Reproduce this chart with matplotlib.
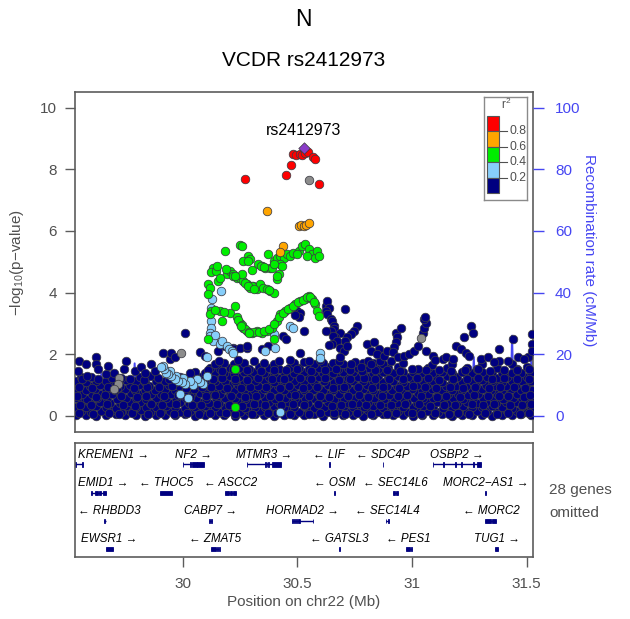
import matplotlib
matplotlib.use("Agg")
import matplotlib.pyplot as plt
from matplotlib.patches import Rectangle

plt.rcParams["font.family"] = ["Liberation Sans", "DejaVu Sans"]
plt.rcParams["mathtext.default"] = "regular"

# ---------------------------------------------------------------- SNP data
# dense block of weakly associated SNPs (r2 < 0.2)
band_pos = [
    29.535, 29.576, 29.622, 29.663, 29.708, 29.749, 29.794, 29.835, 29.881, 29.922, 29.967, 30.008, 30.053, 30.095, 30.14, 30.181, 30.226, 30.267, 30.313, 30.354, 30.399, 30.44, 30.485, 30.527, 30.572, 30.613, 30.658, 30.699, 30.745, 30.786, 30.831, 30.872, 30.917, 30.959, 31.004, 31.045, 31.09, 31.131, 31.177, 31.218, 31.263, 31.304, 31.349, 31.391, 31.436, 31.477, 31.52,
    29.557, 29.598, 29.643, 29.685, 29.73, 29.771, 29.816, 29.857, 29.903, 29.944, 29.989, 30.03, 30.075, 30.117, 30.162, 30.203, 30.248, 30.289, 30.335, 30.376, 30.421, 30.462, 30.507, 30.549, 30.594, 30.635, 30.68, 30.721, 30.767, 30.808, 30.853, 30.894, 30.939, 30.981, 31.026, 31.067, 31.112, 31.153, 31.199, 31.24, 31.285, 31.326, 31.371, 31.413, 31.458, 31.499,
    29.536, 29.579, 29.621, 29.666, 29.709, 29.751, 29.795, 29.838, 29.881, 29.925, 29.968, 30.01, 30.054, 30.097, 30.141, 30.184, 30.226, 30.27, 30.313, 30.357, 30.4, 30.442, 30.486, 30.529, 30.573, 30.616, 30.658, 30.702, 30.745, 30.789, 30.832, 30.874, 30.918, 30.961, 31.005, 31.048, 31.09, 31.134, 31.177, 31.221, 31.264, 31.306, 31.35, 31.393, 31.437, 31.48, 31.52,
    29.554, 29.597, 29.64, 29.684, 29.727, 29.77, 29.813, 29.856, 29.9, 29.943, 29.986, 30.029, 30.072, 30.116, 30.159, 30.202, 30.245, 30.288, 30.332, 30.375, 30.418, 30.461, 30.504, 30.548, 30.591, 30.634, 30.677, 30.72, 30.764, 30.807, 30.85, 30.893, 30.936, 30.98, 31.023, 31.066, 31.109, 31.152, 31.196, 31.239, 31.282, 31.325, 31.368, 31.412, 31.455, 31.498,
    29.538, 29.581, 29.624, 29.668, 29.711, 29.754, 29.797, 29.84, 29.884, 29.927, 29.97, 30.013, 30.056, 30.1, 30.143, 30.186, 30.229, 30.272, 30.316, 30.359, 30.402, 30.445, 30.488, 30.532, 30.575, 30.618, 30.661, 30.704, 30.748, 30.791, 30.834, 30.877, 30.92, 30.964, 31.007, 31.05, 31.093, 31.136, 31.18, 31.223, 31.266, 31.309, 31.352, 31.396, 31.439, 31.482, 31.52,
    29.559, 29.602, 29.645, 29.689, 29.732, 29.775, 29.818, 29.861, 29.905, 29.948, 29.991, 30.034, 30.077, 30.121, 30.164, 30.207, 30.25, 30.293, 30.337, 30.38, 30.423, 30.466, 30.509, 30.553, 30.596, 30.639, 30.682, 30.725, 30.769, 30.812, 30.855, 30.898, 30.941, 30.985, 31.028, 31.071, 31.114, 31.157, 31.201, 31.244, 31.287, 31.33, 31.373, 31.417, 31.46, 31.503,
    29.533, 29.576, 29.619, 29.663, 29.706, 29.749, 29.792, 29.835, 29.879, 29.922, 29.965, 30.008, 30.051, 30.095, 30.138, 30.181, 30.224, 30.267, 30.311, 30.354, 30.397, 30.44, 30.483, 30.527, 30.57, 30.613, 30.656, 30.699, 30.743, 30.786, 30.829, 30.872, 30.915, 30.959, 31.002, 31.045, 31.088, 31.131, 31.175, 31.218, 31.261, 31.304, 31.347, 31.391, 31.434, 31.477, 31.519,
    29.552, 29.595, 29.638, 29.682, 29.725, 29.768, 29.811, 29.854, 29.898, 29.941, 29.984, 30.027, 30.07, 30.114, 30.157, 30.2, 30.243, 30.286, 30.33, 30.373, 30.416, 30.459, 30.502, 30.546, 30.589, 30.632, 30.675, 30.718, 30.762, 30.805, 30.848, 30.891, 30.934, 30.978, 31.021, 31.064, 31.107, 31.15, 31.194, 31.237, 31.28, 31.323, 31.366, 31.41, 31.453, 31.496,
    29.535, 29.578, 29.621, 29.665, 29.708, 29.751, 29.794, 29.837, 29.881, 29.924, 29.967, 30.01, 30.053, 30.097, 30.14, 30.183, 30.226, 30.269, 30.313, 30.356, 30.399, 30.442, 30.485, 30.529, 30.572, 30.615, 30.658, 30.701, 30.745, 30.788, 30.831, 30.874, 30.917, 30.961, 31.004, 31.047, 31.09, 31.133, 31.177, 31.22, 31.263, 31.306, 31.349, 31.393, 31.436, 31.479, 31.52,
    29.556, 29.599, 29.686, 29.729, 29.815, 29.858, 29.945, 29.988, 30.031, 30.074, 30.118, 30.161, 30.204, 30.247, 30.29, 30.334, 30.377, 30.42, 30.463, 30.506, 30.55, 30.593, 30.636, 30.679, 30.722, 30.766, 30.809, 30.852, 30.895, 30.938, 30.982, 31.025, 31.068, 31.111, 31.154, 31.198, 31.241, 31.284, 31.327, 31.37, 31.414, 31.457, 31.5,
    30.052, 30.096, 30.139, 30.182, 30.225, 30.268, 30.312, 30.355, 30.398, 30.441, 30.484, 30.528, 30.571, 30.614, 30.657, 30.7, 30.744, 30.787, 30.83, 30.873, 30.916, 30.96, 31.003, 31.046, 31.089, 31.132, 31.176, 31.219, 31.262, 31.305, 31.348, 31.392, 31.435, 31.478, 31.521,
    30.118, 30.161, 30.204, 30.247, 30.29, 30.334, 30.377, 30.42, 30.463, 30.506, 30.55, 30.593, 30.636, 30.679, 30.722, 30.766, 30.809, 30.852, 30.895, 30.938, 31.025, 31.068, 31.154, 31.241, 31.284, 31.37, 31.457, 31.5,
    30.139, 30.182, 30.225, 30.268, 30.355, 30.398, 30.484, 30.528, 30.571, 30.614, 30.657, 30.7, 30.787, 30.83, 30.873, 30.96, 31.089, 31.176, 31.305, 31.435,
]
band_logp = [
    0.01, 0.03, 0.0, 0.02, 0.04, 0.01, 0.02, 0.0, 0.03, 0.01, 0.02, 0.04, 0.0, 0.02, 0.01, 0.03, 0.0, 0.02, 0.04, 0.01, 0.0, 0.03, 0.02, 0.01, 0.04, 0.0, 0.02, 0.03, 0.01, 0.0, 0.02, 0.04, 0.01, 0.03, 0.0, 0.02, 0.01, 0.04, 0.0, 0.03, 0.02, 0.01, 0.0, 0.03, 0.02, 0.04, 0.01,
    0.15, 0.13, 0.16, 0.14, 0.12, 0.15, 0.17, 0.13, 0.14, 0.16, 0.12, 0.15, 0.14, 0.17, 0.13, 0.15, 0.12, 0.16, 0.14, 0.13, 0.15, 0.17, 0.12, 0.14, 0.16, 0.13, 0.15, 0.12, 0.14, 0.17, 0.13, 0.15, 0.16, 0.12, 0.14, 0.15, 0.13, 0.17, 0.14, 0.12, 0.16, 0.15, 0.13, 0.14, 0.16, 0.12,
    0.29, 0.27, 0.3, 0.28, 0.26, 0.31, 0.28, 0.29, 0.27, 0.3, 0.28, 0.26, 0.29, 0.31, 0.27, 0.28, 0.3, 0.26, 0.29, 0.28, 0.31, 0.27, 0.29, 0.3, 0.26, 0.28, 0.29, 0.31, 0.27, 0.28, 0.3, 0.26, 0.29, 0.28, 0.27, 0.31, 0.29, 0.26, 0.28, 0.3, 0.27, 0.29, 0.31, 0.28, 0.26, 0.3, 0.28,
    0.43, 0.41, 0.44, 0.42, 0.4, 0.45, 0.43, 0.41, 0.44, 0.42, 0.43, 0.4, 0.45, 0.42, 0.41, 0.44, 0.43, 0.4, 0.42, 0.45, 0.41, 0.43, 0.44, 0.42, 0.4, 0.43, 0.45, 0.41, 0.42, 0.44, 0.43, 0.4, 0.42, 0.45, 0.41, 0.43, 0.44, 0.42, 0.4, 0.43, 0.41, 0.45, 0.42, 0.44, 0.43, 0.41,
    0.57, 0.55, 0.58, 0.56, 0.54, 0.59, 0.57, 0.55, 0.56, 0.58, 0.54, 0.57, 0.59, 0.55, 0.56, 0.58, 0.57, 0.54, 0.56, 0.59, 0.55, 0.57, 0.58, 0.56, 0.54, 0.57, 0.55, 0.59, 0.56, 0.58, 0.57, 0.54, 0.56, 0.55, 0.59, 0.57, 0.58, 0.55, 0.56, 0.54, 0.57, 0.59, 0.56, 0.55, 0.58, 0.57, 0.56,
    0.71, 0.69, 0.72, 0.7, 0.68, 0.73, 0.71, 0.69, 0.7, 0.72, 0.68, 0.71, 0.73, 0.69, 0.7, 0.72, 0.71, 0.68, 0.7, 0.73, 0.69, 0.71, 0.72, 0.7, 0.68, 0.71, 0.69, 0.73, 0.7, 0.72, 0.71, 0.68, 0.7, 0.69, 0.73, 0.71, 0.72, 0.69, 0.7, 0.68, 0.71, 0.73, 0.7, 0.69, 0.72, 0.71,
    0.85, 0.83, 0.86, 0.84, 0.82, 0.87, 0.85, 0.83, 0.84, 0.86, 0.82, 0.85, 0.87, 0.83, 0.84, 0.86, 0.85, 0.82, 0.84, 0.87, 0.83, 0.85, 0.86, 0.84, 0.82, 0.85, 0.83, 0.87, 0.84, 0.86, 0.85, 0.82, 0.84, 0.83, 0.87, 0.85, 0.86, 0.83, 0.84, 0.82, 0.85, 0.87, 0.84, 0.83, 0.86, 0.85, 0.84,
    0.99, 0.97, 1.0, 0.98, 0.96, 1.01, 0.99, 0.97, 0.98, 1.0, 0.96, 0.99, 1.01, 0.97, 0.98, 1.0, 0.99, 0.96, 0.98, 1.01, 0.97, 0.99, 1.0, 0.98, 0.96, 0.99, 0.97, 1.01, 0.98, 1.0, 0.99, 0.96, 0.98, 0.97, 1.01, 0.99, 1.0, 0.97, 0.98, 0.96, 0.99, 1.01, 0.98, 0.97, 1.0, 0.99,
    1.13, 1.11, 1.14, 1.12, 1.1, 1.15, 1.13, 1.11, 1.12, 1.14, 1.1, 1.13, 1.15, 1.11, 1.12, 1.14, 1.13, 1.1, 1.12, 1.15, 1.11, 1.13, 1.14, 1.12, 1.1, 1.13, 1.11, 1.15, 1.12, 1.14, 1.13, 1.1, 1.12, 1.11, 1.15, 1.13, 1.14, 1.11, 1.12, 1.1, 1.13, 1.15, 1.12, 1.11, 1.14, 1.13, 1.12,
    1.27, 1.25, 1.28, 1.24, 1.26, 1.29, 1.25, 1.27, 1.28, 1.26, 1.24, 1.27, 1.29, 1.25, 1.26, 1.28, 1.27, 1.24, 1.26, 1.29, 1.25, 1.27, 1.28, 1.26, 1.24, 1.27, 1.25, 1.29, 1.26, 1.28, 1.27, 1.24, 1.26, 1.25, 1.29, 1.27, 1.28, 1.25, 1.26, 1.24, 1.27, 1.29, 1.26,
    1.41, 1.39, 1.42, 1.4, 1.38, 1.43, 1.41, 1.39, 1.4, 1.42, 1.38, 1.41, 1.43, 1.39, 1.4, 1.42, 1.41, 1.38, 1.4, 1.43, 1.39, 1.41, 1.42, 1.4, 1.38, 1.41, 1.39, 1.43, 1.4, 1.42, 1.41, 1.38, 1.4, 1.39, 1.42,
    1.55, 1.53, 1.56, 1.54, 1.52, 1.57, 1.55, 1.53, 1.54, 1.56, 1.52, 1.55, 1.57, 1.53, 1.54, 1.56, 1.55, 1.52, 1.54, 1.57, 1.53, 1.55, 1.56, 1.54, 1.52, 1.55, 1.53, 1.57,
    1.69, 1.71, 1.68, 1.72, 1.7, 1.69, 1.71, 1.73, 1.68, 1.7, 1.72, 1.69, 1.71, 1.7, 1.68, 1.72, 1.66, 1.67, 1.69, 1.68,
]

# more low-significance SNPs, between the rows above
band2_pos = [
    29.545, 29.61, 29.68, 29.72, 29.78, 29.85, 29.9, 29.96, 30.02, 30.07, 30.12, 30.19, 30.23, 30.3, 30.37, 30.41, 30.47, 30.55, 30.6, 30.66, 30.71, 30.76, 30.82, 30.89, 30.93, 31.0, 31.04, 31.1, 31.16, 31.2, 31.25, 31.32, 31.37, 31.42, 31.47, 31.51,
    29.55, 29.6, 29.67, 29.74, 29.79, 29.86, 29.91, 29.97, 30.04, 30.08, 30.15, 30.2, 30.26, 30.31, 30.36, 30.43, 30.48, 30.53, 30.59, 30.65, 30.69, 30.74, 30.8, 30.86, 30.91, 30.97, 31.03, 31.08, 31.14, 31.19, 31.26, 31.31, 31.36, 31.43, 31.48, 31.52,
    29.54, 29.62, 29.66, 29.73, 29.8, 29.84, 29.92, 29.98, 30.03, 30.1, 30.14, 30.21, 30.27, 30.32, 30.38, 30.42, 30.49, 30.55, 30.6, 30.64, 30.72, 30.77, 30.81, 30.87, 30.94, 30.98, 31.04, 31.11, 31.15, 31.21, 31.27, 31.33, 31.38, 31.42, 31.49, 31.515,
    29.545, 29.605, 29.675, 29.715, 29.785, 29.845, 29.895, 29.955, 30.015, 30.085, 30.125, 30.195, 30.255, 30.295, 30.365, 30.425, 30.465, 30.525, 30.585, 30.655, 30.705, 30.765, 30.825, 30.875, 30.945, 31.005, 31.055, 31.105, 31.165, 31.225, 31.275, 31.335, 31.385, 31.445, 31.495,
    29.56, 29.63, 29.69, 29.77, 29.83, 29.89, 29.94, 30.0, 30.06, 30.13, 30.17, 30.23, 30.28, 30.33, 30.39, 30.44, 30.51, 30.56, 30.62, 30.68, 30.73, 30.79, 30.84, 30.9, 30.96, 31.02, 31.07, 31.12, 31.18, 31.24, 31.29, 31.35, 31.4, 31.46, 31.51,
    30.11, 30.17, 30.22, 30.28, 30.34, 30.4, 30.45, 30.5, 30.56, 30.62, 30.67, 30.73, 30.78, 30.84, 30.89, 30.95, 31.0, 31.06, 31.12, 31.17, 31.23, 31.29, 31.34, 31.4, 31.46, 31.51,
    30.16, 30.24, 30.31, 30.42, 30.47, 30.55, 30.6, 30.68, 30.75, 30.81, 30.86, 30.91,
]
band2_logp = [
    0.08, 0.06, 0.09, 0.07, 0.1, 0.05, 0.08, 0.07, 0.09, 0.06, 0.08, 0.1, 0.07, 0.05, 0.09, 0.08, 0.06, 0.07, 0.1, 0.08, 0.06, 0.09, 0.07, 0.05, 0.08, 0.1, 0.06, 0.09, 0.07, 0.08, 0.05, 0.09, 0.07, 0.1, 0.06, 0.08,
    0.36, 0.34, 0.38, 0.35, 0.33, 0.37, 0.36, 0.39, 0.34, 0.36, 0.38, 0.35, 0.33, 0.37, 0.36, 0.34, 0.39, 0.35, 0.37, 0.33, 0.36, 0.38, 0.34, 0.36, 0.35, 0.39, 0.37, 0.33, 0.36, 0.34, 0.38, 0.35, 0.37, 0.36, 0.34, 0.38,
    0.64, 0.62, 0.66, 0.63, 0.61, 0.65, 0.64, 0.67, 0.62, 0.64, 0.66, 0.63, 0.61, 0.65, 0.64, 0.62, 0.67, 0.63, 0.65, 0.61, 0.64, 0.66, 0.62, 0.64, 0.63, 0.67, 0.65, 0.61, 0.64, 0.62, 0.66, 0.63, 0.65, 0.64, 0.62, 0.66,
    0.92, 0.9, 0.94, 0.91, 0.89, 0.93, 0.92, 0.95, 0.9, 0.92, 0.94, 0.91, 0.89, 0.93, 0.92, 0.9, 0.95, 0.91, 0.93, 0.89, 0.92, 0.94, 0.9, 0.92, 0.91, 0.95, 0.93, 0.89, 0.92, 0.9, 0.94, 0.91, 0.93, 0.92, 0.9,
    1.2, 1.18, 1.22, 1.19, 1.17, 1.21, 1.2, 1.23, 1.18, 1.2, 1.22, 1.19, 1.17, 1.21, 1.2, 1.18, 1.23, 1.19, 1.21, 1.17, 1.2, 1.22, 1.18, 1.2, 1.19, 1.23, 1.21, 1.17, 1.2, 1.18, 1.22, 1.19, 1.21, 1.2, 1.18,
    1.48, 1.46, 1.5, 1.47, 1.45, 1.49, 1.48, 1.51, 1.46, 1.48, 1.5, 1.47, 1.45, 1.49, 1.48, 1.46, 1.5, 1.47, 1.49, 1.45, 1.48, 1.5, 1.46, 1.48, 1.47, 1.5,
    1.78, 1.8, 1.76, 1.79, 1.82, 1.77, 1.8, 1.78, 1.75, 1.79, 1.77, 1.76,
]

# scattered SNPs with r2 < 0.2 above the dense block
navy_pos = [
    29.541, 29.548, 29.577, 29.584, 29.621, 29.623, 29.628, 29.665, 29.672, 29.701,
    29.745, 29.753, 29.790, 29.818, 29.833, 29.862, 29.877, 29.913, 29.943, 29.950,
    29.965, 30.008, 30.030, 30.074, 30.096, 30.155, 30.184, 30.221, 30.228, 30.250,
    30.279, 30.282, 30.345, 30.374, 30.439, 30.452, 30.491, 30.498, 30.513, 30.505,
    30.491, 30.527, 30.513, 30.623, 30.630, 30.637, 30.623, 30.630, 30.645, 30.652,
    30.659, 30.662, 30.645, 30.688, 30.666, 30.655, 30.674, 30.652, 30.640, 30.688,
    30.703, 30.688, 30.710, 30.761, 30.747, 30.732, 30.717, 30.710, 30.717, 30.732,
    30.776, 30.805, 30.834, 30.820, 30.856, 30.849, 30.878, 30.893, 30.820, 30.930,
    30.937, 30.930, 30.952, 30.922, 30.916, 30.940, 30.966, 30.988, 31.010, 31.025,
    31.047, 31.054, 31.061, 31.054, 31.058, 31.061, 31.090, 31.100, 31.134, 31.150,
    31.178, 31.193, 31.214, 31.229, 31.236, 31.251, 31.258, 31.265, 31.300, 31.331,
    31.378, 31.382, 31.419, 31.441, 31.463, 31.507, 31.522, 31.522, 31.522, 30.623,
    31.489, 31.360,
]
navy_logp = [
    1.46, 1.78, 1.68, 1.30, 1.89, 1.68, 1.51, 1.35, 1.60, 1.40,
    1.51, 1.78, 1.45, 1.57, 1.40, 1.68, 1.46, 2.05, 1.84, 2.05,
    1.89, 2.70, 1.40, 2.08, 1.95, 2.11, 2.27, 2.21, 2.16, 2.21,
    2.21, 2.27, 2.16, 2.27, 2.59, 2.50, 3.35, 3.40, 3.35, 3.19,
    3.28, 2.76, 2.05, 3.57, 3.73, 3.51, 3.40, 3.30, 3.13, 3.08,
    2.92, 2.82, 2.76, 2.70, 2.54, 2.60, 2.43, 2.32, 2.28, 2.21,
    2.11, 1.89, 3.46, 2.92, 2.76, 2.65, 2.54, 2.43, 2.27, 1.68,
    1.57, 2.32, 2.38, 2.11, 2.16, 2.00, 1.95, 2.11, 1.68, 2.70,
    2.54, 2.38, 2.86, 2.22, 2.08, 1.90, 1.95, 2.00, 2.11, 2.27,
    2.70, 2.86, 3.02, 3.13, 3.22, 2.11, 1.95, 1.80, 1.84, 1.90,
    1.84, 2.27, 2.16, 2.54, 2.05, 1.95, 2.92, 2.70, 1.85, 1.89,
    2.16, 1.78, 1.78, 2.49, 1.89, 1.89, 2.65, 2.32, 2.11, 2.76,
    1.84, 1.73,
]

# SNPs with no LD information
na_pos = [29.723, 29.716, 29.701, 29.994, 31.039, 30.549]
na_logp = [1.24, 1.03, 0.86, 2.05, 2.52, 7.65]

# 0.2 <= r2 < 0.4
lblue_pos = [
    30.168, 30.127, 30.125, 30.125, 30.125, 30.120, 30.118, 30.133, 30.140, 30.162,
    30.170, 30.191, 30.200, 30.213, 30.218, 30.104, 30.104, 30.089, 30.075, 30.060,
    30.045, 30.031, 30.010, 30.001, 29.995, 29.987, 29.980, 29.972, 29.965, 29.950,
    29.943, 29.935, 29.925, 29.920, 29.913, 29.906, 30.023, 30.359, 30.396, 30.403,
    30.425, 30.469, 30.483, 30.601, 30.601,
]
lblue_logp = [
    4.05, 3.80, 3.51, 3.08, 2.86, 2.70, 2.59, 2.43, 2.62, 2.32,
    2.43, 2.27, 2.16, 2.11, 2.02, 1.89, 1.30, 1.03, 1.08, 1.19,
    1.00, 1.13, 1.03, 1.24, 1.08, 0.70, 1.13, 1.30, 1.19, 1.30,
    1.46, 1.35, 1.40, 1.51, 1.62, 1.57, 0.59, 2.11, 2.65, 2.21,
    0.11, 2.92, 2.86, 2.05, 1.87,
]

# 0.4 <= r2 < 0.6
green_pos = [
    30.250, 30.257, 30.184, 30.286, 30.294, 30.264, 30.286, 30.330, 30.345, 30.359,
    30.381, 30.389, 30.301, 30.374, 30.396, 30.411, 30.425, 30.440, 30.454, 30.469,
    30.483, 30.505, 30.520, 30.535, 30.549, 30.564, 30.579, 30.586, 30.593, 30.542,
    30.498, 30.425, 30.418, 30.411, 30.432, 30.133, 30.125, 30.147, 30.155, 30.111,
    30.118, 30.111, 30.191, 30.206, 30.220, 30.235, 30.250, 30.264, 30.279, 30.294,
    30.308, 30.323, 30.337, 30.352, 30.367, 30.381, 30.396, 30.162, 30.125, 30.162,
    30.206, 30.228, 30.235, 30.250, 30.264, 30.279, 30.301, 30.323, 30.345, 30.367,
    30.389, 30.411, 30.425, 30.447, 30.469, 30.491, 30.513, 30.535, 30.549, 30.564,
    30.579, 30.586, 30.593, 30.118, 30.111, 30.228, 30.228, 30.396, 30.150, 30.190,
    30.220, 30.260, 30.300, 30.340, 30.356, 30.400, 30.410, 30.230, 30.270, 30.285,
    30.312, 30.375, 30.140, 30.180, 30.240, 30.257, 30.272, 30.290, 30.312, 30.334,
    30.356, 30.378, 30.400, 30.418, 30.436, 30.458, 30.480, 30.502, 30.524, 30.542,
    30.556, 30.572, 30.170, 30.252, 30.290,
]
green_logp = [
    5.54, 5.51, 5.35, 5.19, 5.08, 5.02, 5.02, 4.92, 4.86, 4.81,
    4.81, 4.79, 4.72, 5.24, 5.02, 5.13, 5.19, 5.13, 5.24, 5.19,
    5.29, 5.35, 5.51, 5.57, 5.40, 5.24, 5.13, 5.35, 5.19, 5.19,
    5.24, 4.92, 4.59, 4.43, 4.86, 4.81, 4.65, 4.70, 4.38, 4.27,
    4.16, 3.94, 4.59, 4.70, 4.59, 4.48, 4.48, 4.38, 4.27, 4.16,
    4.21, 4.11, 4.27, 4.16, 4.11, 4.05, 4.00, 4.48, 3.40, 3.40,
    3.35, 3.57, 3.19, 3.02, 2.86, 2.76, 2.70, 2.76, 2.70, 2.76,
    2.86, 3.08, 3.30, 3.40, 3.51, 3.62, 3.73, 3.78, 3.89, 3.78,
    3.62, 3.40, 3.24, 3.30, 2.49, 1.51, 0.27, 2.49, 4.86, 4.76,
    4.54, 4.59, 4.21, 4.86, 4.84, 4.92, 4.54, 4.52, 4.32, 4.22,
    4.12, 4.08, 3.42, 3.38, 3.10, 2.94, 2.80, 2.72, 2.72, 2.72,
    2.74, 2.80, 2.97, 3.20, 3.35, 3.46, 3.57, 3.68, 3.76, 3.84,
    3.84, 3.70, 3.08, 2.92, 2.70,
]

# 0.6 <= r2 < 0.8
orange_pos = [30.367, 30.505, 30.515, 30.527, 30.538, 30.549, 30.437, 30.425]
orange_logp = [6.65, 6.16, 6.18, 6.16, 6.20, 6.26, 5.51, 5.32]

# r2 >= 0.8
red_pos = [30.483, 30.495, 30.510, 30.520, 30.535, 30.547, 30.568, 30.578,
           30.472, 30.451, 30.272, 30.593]
red_logp = [8.50, 8.46, 8.50, 8.48, 8.53, 8.57, 8.40, 8.35,
            8.13, 7.83, 7.69, 7.51]

lead_snp = "rs2412973"
lead_pos = 30.529
lead_logp = 8.70

# recombination rate (cM/Mb)
recomb_pos = [29.53, 29.60, 29.63, 29.645, 29.655, 29.665, 29.70, 29.78, 29.79, 29.80,
              29.85, 29.95, 30.05, 30.15, 30.25, 30.35, 30.45, 30.55, 30.65, 30.75,
              30.85, 30.93, 30.945, 30.96, 31.05, 31.15, 31.26, 31.27, 31.28, 31.35,
              31.43, 31.437, 31.445, 31.51, 31.522, 31.527]
recomb_rate = [2, 1.5, 3, 14, 2, 1, 1, 2, 17, 1,
               1, 2, 1, 0.5, 0.5, 1, 2, 1, 1, 2,
               1, 1, 15, 1, 1, 2, 1, 19, 1, 1,
               2, 26, 2, 1, 20, 2]

# ---------------------------------------------------------------- genes
gene_names = ["KREMEN1", "NF2", "MTMR3", "LIF", "SDC4P", "OSBP2",
              "EMID1", "THOC5", "ASCC2", "OSM", "SEC14L6", "MORC2\u2212AS1",
              "RHBDD3", "CABP7", "HORMAD2", "SEC14L4", "MORC2",
              "EWSR1", "ZMAT5", "GATSL3", "PES1", "TUG1"]
gene_strand = ["+", "+", "+", "-", "-", "+",
               "+", "-", "-", "-", "-", "+",
               "-", "+", "+", "-", "-",
               "+", "-", "-", "-", "+"]
gene_row = [0, 0, 0, 0, 0, 0,
            1, 1, 1, 1, 1, 1,
            2, 2, 2, 2, 2,
            3, 3, 3, 3, 3]
gene_start = [29.469, 29.9995, 30.279, 30.636, 30.872, 31.091,
              29.600, 29.901, 30.184, 30.658, 30.918, 31.318,
              29.655, 30.115, 30.476, 30.885, 31.321,
              29.664, 30.123, 30.681, 30.972, 31.364]
gene_end = [29.564, 30.0946, 30.427, 30.643, 30.875, 31.301,
            29.664, 29.951, 30.234, 30.663, 30.940, 31.322,
            29.663, 30.127, 30.570, 30.901, 31.368,
            29.697, 30.160, 30.685, 31.000, 31.375]
gene_exons = [
    [(29.469, 29.471), (29.530, 29.533), (29.559, 29.564)],
    [(29.9995, 30.002), (30.032, 30.036), (30.040, 30.060), (30.064, 30.0946)],
    [(30.279, 30.282), (30.360, 30.362), (30.366, 30.368), (30.372, 30.374), (30.388, 30.427)],
    [(30.637, 30.642)],
    [(30.872, 30.875)],
    [(31.091, 31.093), (31.137, 31.139), (31.188, 31.190), (31.216, 31.218), (31.268, 31.272), (31.283, 31.301)],
    [(29.600, 29.603), (29.618, 29.628), (29.634, 29.645), (29.652, 29.664)],
    [(29.901, 29.951)],
    [(30.184, 30.200), (30.205, 30.215), (30.220, 30.234)],
    [(30.658, 30.663)],
    [(30.918, 30.925), (30.929, 30.940)],
    [(31.318, 31.322)],
    [(29.656, 29.662)],
    [(30.115, 30.117), (30.124, 30.127)],
    [(30.476, 30.480), (30.485, 30.490), (30.494, 30.500), (30.504, 30.510), (30.567, 30.570)],
    [(30.885, 30.889), (30.895, 30.901)],
    [(31.321, 31.345), (31.350, 31.368)],
    [(29.664, 29.697)],
    [(30.123, 30.145), (30.151, 30.153), (30.158, 30.160)],
    [(30.681, 30.685)],
    [(30.972, 30.990), (30.995, 31.000)],
    [(31.364, 31.376)],
]

# ---------------------------------------------------------------- layout
W, H = 630, 619
XLIM = (29.531, 31.527)
YLIM = (-0.513, 10.526)
GREY = "#505050"
FRAME = "#5c5c5c"
BLUE = "#4646F2"
NAVY = "#000080"


def box(x0, y0, x1, y1):
    return [x0 / W, 1 - y1 / H, (x1 - x0) / W, (y1 - y0) / H]


fig = plt.figure(figsize=(W / 100, H / 100), dpi=100)
ax = fig.add_axes(box(75.3, 91.5, 532.7, 431.5))
gx = fig.add_axes(box(75.3, 443, 532.7, 557))

# recombination line (drawn in the p-value scale, behind the points)
ax.plot(recomb_pos, [r / 10 for r in recomb_rate], color=BLUE, lw=1.4, zorder=1)

pt = dict(s=38, linewidths=0.55, edgecolors="#3c3c44", zorder=3)
ax.scatter(band_pos, band_logp, c=NAVY, **pt)
ax.scatter(band2_pos, band2_logp, c=NAVY, **pt)
ax.scatter(navy_pos, navy_logp, c=NAVY, **pt)
ax.scatter(na_pos, na_logp, c="#8c8c8c", **pt)
ax.scatter(lblue_pos, lblue_logp, c="#87CEFA", **pt)
ax.scatter(green_pos, green_logp, c="#00EE00", **pt)
ax.scatter(orange_pos, orange_logp, c="#FFA500", **pt)
ax.scatter(red_pos, red_logp, c="#FF0000", **pt)
ax.scatter([lead_pos], [lead_logp], marker="D", s=34, c="#8A3CC8",
           linewidths=0.5, edgecolors="#3a3a3a", zorder=4)
ax.text(lead_pos, 9.25, lead_snp, ha="center", va="center", fontsize=11.5,
        color="black", zorder=5)

ax.set_xlim(*XLIM)
ax.set_ylim(*YLIM)
ax.set_xticks([])
ax.set_yticks([0, 2, 4, 6, 8, 10])
ax.tick_params(axis="y", length=7.2, width=1, color=FRAME, labelcolor=GREY,
               labelsize=11, pad=6)
for sp in ax.spines.values():
    sp.set_color(FRAME)
    sp.set_linewidth(1.2)

ax2 = ax.twinx()
ax2.set_ylim(YLIM[0] * 10, YLIM[1] * 10)
ax2.set_yticks([0, 20, 40, 60, 80, 100])
ax2.tick_params(axis="y", length=8, width=1, color=BLUE, labelcolor=BLUE,
                labelsize=11, pad=8)
for sp in ax2.spines.values():
    sp.set_visible(False)

fig.text(17 / W, 1 - 263 / H, "\u2212log$_{10}$(p\u2212value)", rotation=90,
         ha="center", va="center", fontsize=11, color=GREY)
fig.text(589 / W, 1 - 250 / H, "Recombination rate (cM/Mb)", rotation=-90,
         ha="center", va="center", fontsize=11, color=BLUE)

fig.text(303.5 / W, 1 - 20 / H, "N", ha="center", va="center", fontsize=16.5)
fig.text(303.5 / W, 1 - 60 / H, "VCDR rs2412973", ha="center", va="center",
         fontsize=15)

# r2 colour key
lg = fig.add_axes(box(484, 97, 527, 200))
lg.set_xlim(0, 43)
lg.set_ylim(103, 0)
lg.set_xticks([])
lg.set_yticks([])
for sp in lg.spines.values():
    sp.set_color("#8a8a8a")
    sp.set_linewidth(1.0)
key_cols = ["#FF0000", "#FFA500", "#00EE00", "#87CEFA", NAVY]
key_labels = ["0.8", "0.6", "0.4", "0.2"]
for i, col in enumerate(key_cols):
    lg.add_patch(Rectangle((2.7, 19 + i * 15.4), 12.6, 15.4, facecolor=col,
                           edgecolor="#555555", lw=0.8))
for i, lab in enumerate(key_labels):
    yy = 19 + (i + 1) * 15.4
    lg.plot([15.3, 22.5], [yy, yy], color=GREY, lw=0.8)
    lg.text(25.0, yy, lab, ha="left", va="center", fontsize=8.8, color=GREY)
lg.text(22, 7.5, "r$^2$", ha="center", va="center", fontsize=8.5, color=GREY)

# gene panel
gx.set_xlim(*XLIM)
gx.set_ylim(114, 0)
gx.set_yticks([])
gx.set_xticks([30, 30.5, 31, 31.5])
gx.set_xticklabels(["30", "30.5", "31", "31.5"])
gx.tick_params(axis="x", length=7.5, width=1, color=FRAME, labelcolor=GREY,
               labelsize=11, pad=7)
for sp in gx.spines.values():
    sp.set_color(FRAME)
    sp.set_linewidth(1.2)
gx.set_xlabel("Position on chr22 (Mb)", fontsize=11, color=GREY, labelpad=3)

text_y = [12, 40.3, 68.5, 96.3]
bar_y = [21.3, 49.7, 77.7, 106]
labels = []
for name, st, s, e, row, exons in zip(gene_names, gene_strand, gene_start,
                                      gene_end, gene_row, gene_exons):
    yb = bar_y[row]
    gx.plot([s, e], [yb, yb], color=NAVY, lw=1.0, solid_capstyle="butt")
    for a, b in exons:
        gx.add_patch(Rectangle((a, yb - 2.2), max(b - a, 0.003), 4.4,
                               facecolor=NAVY, edgecolor=NAVY, lw=0.6))
    txt = f"{name} \u2192" if st == "+" else f"\u2190 {name}"
    t = gx.text((s + e) / 2, text_y[row], txt, ha="center", va="center",
                fontsize=8.4, style="italic", color="black")
    labels.append(t)

fig.text(549 / W, 1 - 490 / H, "28 genes", ha="left", va="center",
         fontsize=11, color=GREY)
fig.text(549 / W, 1 - 513 / H, "omitted", ha="left", va="center",
         fontsize=11, color=GREY)

# keep gene labels inside the panel
fig.canvas.draw()
rend = fig.canvas.get_renderer()
gbb = gx.get_window_extent(rend)
for t in labels:
    bb = t.get_window_extent(rend)
    shift = 0.0
    if bb.x0 < gbb.x0 + 2.5:
        shift = gbb.x0 + 2.5 - bb.x0
    elif bb.x1 > gbb.x1 - 2.5:
        shift = gbb.x1 - 2.5 - bb.x1
    if shift:
        xd = gx.transData.transform((t.get_position()[0], 0))[0] + shift
        t.set_x(gx.transData.inverted().transform((xd, 0))[0])

fig.savefig("out.png", dpi=100)
